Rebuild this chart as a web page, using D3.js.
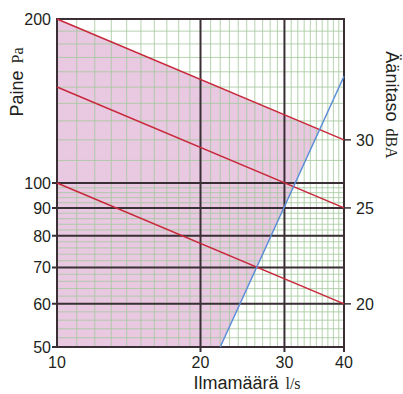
<!DOCTYPE html>
<html>
<head>
<meta charset="utf-8">
<script src="https://cdn.jsdelivr.net/npm/d3@7"></script>
<style>
  html, body { margin: 0; padding: 0; background: #fff; }
  svg text { font-family: "Liberation Sans", Arial, sans-serif; fill: #231f20; }
</style>
</head>
<body>
<svg id="chart" width="403" height="394"></svg>
<script>
// ─── Data ─────────────────────────────────────────────────────────────────────
const xTicks     = [10, 20, 30, 40];               // Ilmamäärä l/s
const yTicks     = [50, 60, 70, 80, 90, 100, 200]; // Paine Pa
const yMajor     = [60, 70, 80, 90, 100];
const xMajor     = [20, 30];

// dBA-lines: pressure at 10 l/s and at 40 l/s
const dbaLevels  = [20, 25, 30];
const dbaStart   = [100, 150, 200];
const dbaEnd     = [60, 90, 120];

// limit line (blue)
const limitFlow     = [22, 40];
const limitPressure = [50, 157];

// minor grid
const xMinor = [...d3.range(11, 20), ...d3.range(21, 30), ...d3.range(31, 40)];
const yMinor = [...d3.range(52, 100, 2), ...d3.range(110, 200, 10)];

// ─── Layout ───────────────────────────────────────────────────────────────────
const pL = 57, pR = 344, pT = 19, pB = 347;
const svg = d3.select('#chart');

const x = d3.scaleLog().domain([10, 40]).range([pL, pR]);
const y = d3.scaleLog().domain([50, 200]).range([pB, pT]);

// pink area: below the 30 dBA line and left of the blue line
const redTop = v => dbaStart[2] * Math.pow(v / 10, Math.log(dbaEnd[2] / dbaStart[2]) / Math.log(4));
const blue   = v => limitPressure[0] * Math.pow(v / limitFlow[0],
                 Math.log(limitPressure[1] / limitPressure[0]) / Math.log(limitFlow[1] / limitFlow[0]));
const xCross = d3.range(30, 40, 0.01).find(v => blue(v) >= redTop(v));

const pinkPts = [];
d3.range(10, xCross, 0.5).concat([xCross]).forEach(v => pinkPts.push([x(v), y(redTop(v))]));
pinkPts.push([x(limitFlow[0]), y(limitPressure[0])]);
pinkPts.push([x(10), y(50)]);

svg.append('polygon')
  .attr('points', pinkPts.map(p => p.join(',')).join(' '))
  .attr('fill', '#e9c8e2');

// minor grid
svg.append('g').selectAll('line')
  .data(xMinor)
  .enter().append('line')
  .attr('x1', d => x(d)).attr('x2', d => x(d))
  .attr('y1', pT).attr('y2', pB)
  .attr('stroke', '#a3c99c').attr('stroke-width', 1).attr('opacity', 0.8);

svg.append('g').selectAll('line')
  .data(yMinor)
  .enter().append('line')
  .attr('x1', pL).attr('x2', pR)
  .attr('y1', d => y(d)).attr('y2', d => y(d))
  .attr('stroke', '#a3c99c').attr('stroke-width', 1).attr('opacity', 0.8);

// major grid
svg.append('g').selectAll('line')
  .data(xMajor)
  .enter().append('line')
  .attr('x1', d => x(d)).attr('x2', d => x(d))
  .attr('y1', pT).attr('y2', pB + 5)
  .attr('stroke', '#3a2f35').attr('stroke-width', 2);

svg.append('g').selectAll('line')
  .data(yMajor)
  .enter().append('line')
  .attr('x1', pL - 5).attr('x2', pR)
  .attr('y1', d => y(d)).attr('y2', d => y(d))
  .attr('stroke', '#3a2f35').attr('stroke-width', 2);

// frame
svg.append('rect')
  .attr('x', pL).attr('y', pT)
  .attr('width', pR - pL).attr('height', pB - pT)
  .attr('fill', 'none').attr('stroke', '#3a2f35').attr('stroke-width', 2);

// ticks on frame
svg.append('line').attr('x1', pL - 5).attr('x2', pL).attr('y1', pB).attr('y2', pB)
  .attr('stroke', '#3a2f35').attr('stroke-width', 2);
svg.append('line').attr('x1', pR).attr('x2', pR).attr('y1', pB).attr('y2', pB + 5)
  .attr('stroke', '#3a2f35').attr('stroke-width', 2);

// red dBA lines
svg.append('g').selectAll('line')
  .data(dbaLevels)
  .enter().append('line')
  .attr('x1', x(10)).attr('y1', (d, i) => y(dbaStart[i]))
  .attr('x2', x(40)).attr('y2', (d, i) => y(dbaEnd[i]))
  .attr('stroke', '#c8283a').attr('stroke-width', 1.5);

// blue limit line
svg.append('line')
  .attr('x1', x(limitFlow[0])).attr('y1', y(limitPressure[0]))
  .attr('x2', x(limitFlow[1])).attr('y2', y(limitPressure[1]))
  .attr('stroke', '#5b8dd6').attr('stroke-width', 1.5);

// right dBA ticks + labels
svg.append('g').selectAll('line')
  .data(dbaLevels)
  .enter().append('line')
  .attr('x1', pR).attr('x2', pR + 7)
  .attr('y1', (d, i) => y(dbaEnd[i])).attr('y2', (d, i) => y(dbaEnd[i]))
  .attr('stroke', '#3a2f35').attr('stroke-width', 1.5);

svg.append('g').selectAll('text')
  .data(dbaLevels)
  .enter().append('text')
  .attr('x', pR + 12)
  .attr('y', (d, i) => y(dbaEnd[i]) + 6)
  .attr('font-size', 16)
  .text(d => d);

// y labels
svg.append('g').selectAll('text')
  .data(yTicks)
  .enter().append('text')
  .attr('x', 51)
  .attr('y', d => y(d) + 6)
  .attr('text-anchor', 'end')
  .attr('font-size', 16)
  .text(d => d);

// x labels
svg.append('g').selectAll('text')
  .data(xTicks)
  .enter().append('text')
  .attr('x', d => x(d))
  .attr('y', 368)
  .attr('text-anchor', 'middle')
  .attr('font-size', 16)
  .text(d => d);

// axis titles
const xt = svg.append('text')
  .attr('x', 247).attr('y', 389)
  .attr('text-anchor', 'middle')
  .attr('font-size', 18);
xt.append('tspan').text('Ilmamäärä');
xt.append('tspan').attr('dx', 7).attr('font-family', 'Liberation Serif, serif').attr('font-size', 16).text('l/s');

const yt = svg.append('text')
  .attr('transform', 'translate(23,82) rotate(-90)')
  .attr('text-anchor', 'middle')
  .attr('font-size', 18);
yt.append('tspan').text('Paine');
yt.append('tspan').attr('dx', 7).attr('font-family', 'Liberation Serif, serif').attr('font-size', 16).text('Pa');

const rt = svg.append('text')
  .attr('transform', 'translate(386,105) rotate(90)')
  .attr('text-anchor', 'middle')
  .attr('font-size', 18);
rt.append('tspan').text('Äänitaso');
rt.append('tspan').attr('dx', 7).attr('font-family', 'Liberation Serif, serif').attr('font-size', 16).text('dBA');
</script>
</body>
</html>
